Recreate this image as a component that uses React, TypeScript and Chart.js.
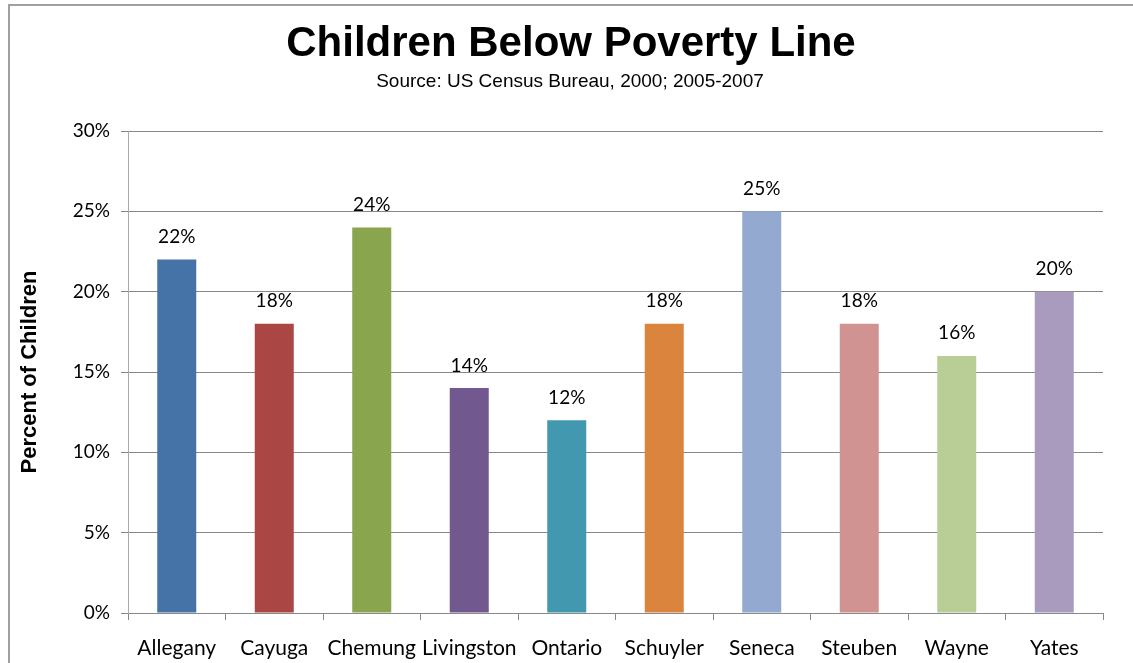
import React, { useEffect, useRef } from "react";
import { Chart, registerables } from "chart.js";

Chart.register(...registerables);

const categories = ["Allegany", "Cayuga", "Chemung", "Livingston", "Ontario", "Schuyler", "Seneca", "Steuben", "Wayne", "Yates"];
const percentValues = [22, 18, 24, 14, 12, 18, 25, 18, 16, 20];
const barColors = ["#4572A7", "#AA4643", "#89A54E", "#71588F", "#4198AF", "#DB843D", "#93A9CF", "#D19392", "#B9CD96", "#A99BBD"];
const yTicks = [0, 5, 10, 15, 20, 25, 30];
const titleText = "Children Below Poverty Line";
const subtitleText = "Source: US Census Bureau, 2000; 2005-2007";

const TICK_FONT = "Lato";

const valueLabelPlugin = {
  id: "valueLabels",
  afterDatasetsDraw(chart: any) {
    const ctx = chart.ctx;
    const meta = chart.getDatasetMeta(0);
    const data = chart.data.datasets[0].data as number[];
    ctx.save();
    ctx.font = `19px ${TICK_FONT}`;
    ctx.fillStyle = "#000";
    ctx.textAlign = "center";
    ctx.textBaseline = "alphabetic";
    meta.data.forEach((bar: any, i: number) => {
      ctx.fillText(`${data[i]}%`, bar.x, bar.y - 16.5);
    });
    ctx.restore();
  },
};

const headerPlugin = {
  id: "header",
  afterDraw(chart: any) {
    const ctx = chart.ctx;
    ctx.save();
    ctx.fillStyle = "#000";
    ctx.textAlign = "center";
    ctx.textBaseline = "alphabetic";
    ctx.font = "bold 42px 'Liberation Sans'";
    ctx.fillText(titleText, 571, 56);
    ctx.font = "19px 'Liberation Sans'";
    ctx.fillText(subtitleText, 570, 86.5);
    ctx.restore();
  },
};

export default function App() {
  const canvasRef = useRef<HTMLCanvasElement | null>(null);

  useEffect(() => {
    if (!canvasRef.current) return;
    const chart = new Chart(canvasRef.current, {
      type: "bar",
      data: {
        labels: categories,
        datasets: [
          {
            data: percentValues,
            backgroundColor: barColors,
            categoryPercentage: 1,
            barPercentage: 0.4,
          },
        ],
      },
      options: {
        responsive: false,
        animation: false,
        devicePixelRatio: 1,
        layout: { padding: { left: 0, right: 30, top: 131, bottom: 0 } },
        plugins: {
          legend: { display: false },
          tooltip: { enabled: false },
          title: { display: false },
          subtitle: { display: false },
        },
        scales: {
          x: {
            grid: { display: true, drawOnChartArea: false, drawTicks: true, tickLength: 7, color: "#888" },
            border: { display: true, color: "#888" },
            ticks: { color: "#000", font: { family: TICK_FONT, size: 21 }, padding: 16, maxRotation: 0, autoSkip: false },
            afterFit: (scale: any) => {
              scale.height = 50;
            },
          },
          y: {
            min: 0,
            max: 30,
            afterBuildTicks: (scale: any) => {
              scale.ticks = yTicks.map((v) => ({ value: v }));
            },
            grid: { color: "#888", tickLength: 7, drawTicks: true },
            border: { display: true, color: "#aaa" },
            ticks: {
              color: "#000",
              font: { family: TICK_FONT, size: 19 },
              padding: 11,
              callback: (v: any) => `${v}%`,
            },
            title: {
              display: true,
              text: "Percent of Children",
              color: "#000",
              font: { family: "Liberation Sans", size: 22, weight: "bold", lineHeight: 1.2 },
              padding: { top: 17, bottom: 0 },
            },
            afterFit: (scale: any) => {
              scale.width = 128;
            },
          },
        },
      },
      plugins: [valueLabelPlugin, headerPlugin],
    });
    return () => chart.destroy();
  }, []);

  return (
    <div style={{ position: "fixed", left: 0, top: 0, width: 1133, height: 663, overflow: "hidden", background: "#fff" }}>
      <div
        style={{
          position: "absolute",
          left: 8,
          top: 4,
          width: 1300,
          height: 800,
          border: "2px solid #a0a0a0",
          boxSizing: "border-box",
        }}
      />
      <canvas ref={canvasRef} width={1133} height={663} style={{ position: "absolute", left: 0, top: 0 }} />
    </div>
  );
}
